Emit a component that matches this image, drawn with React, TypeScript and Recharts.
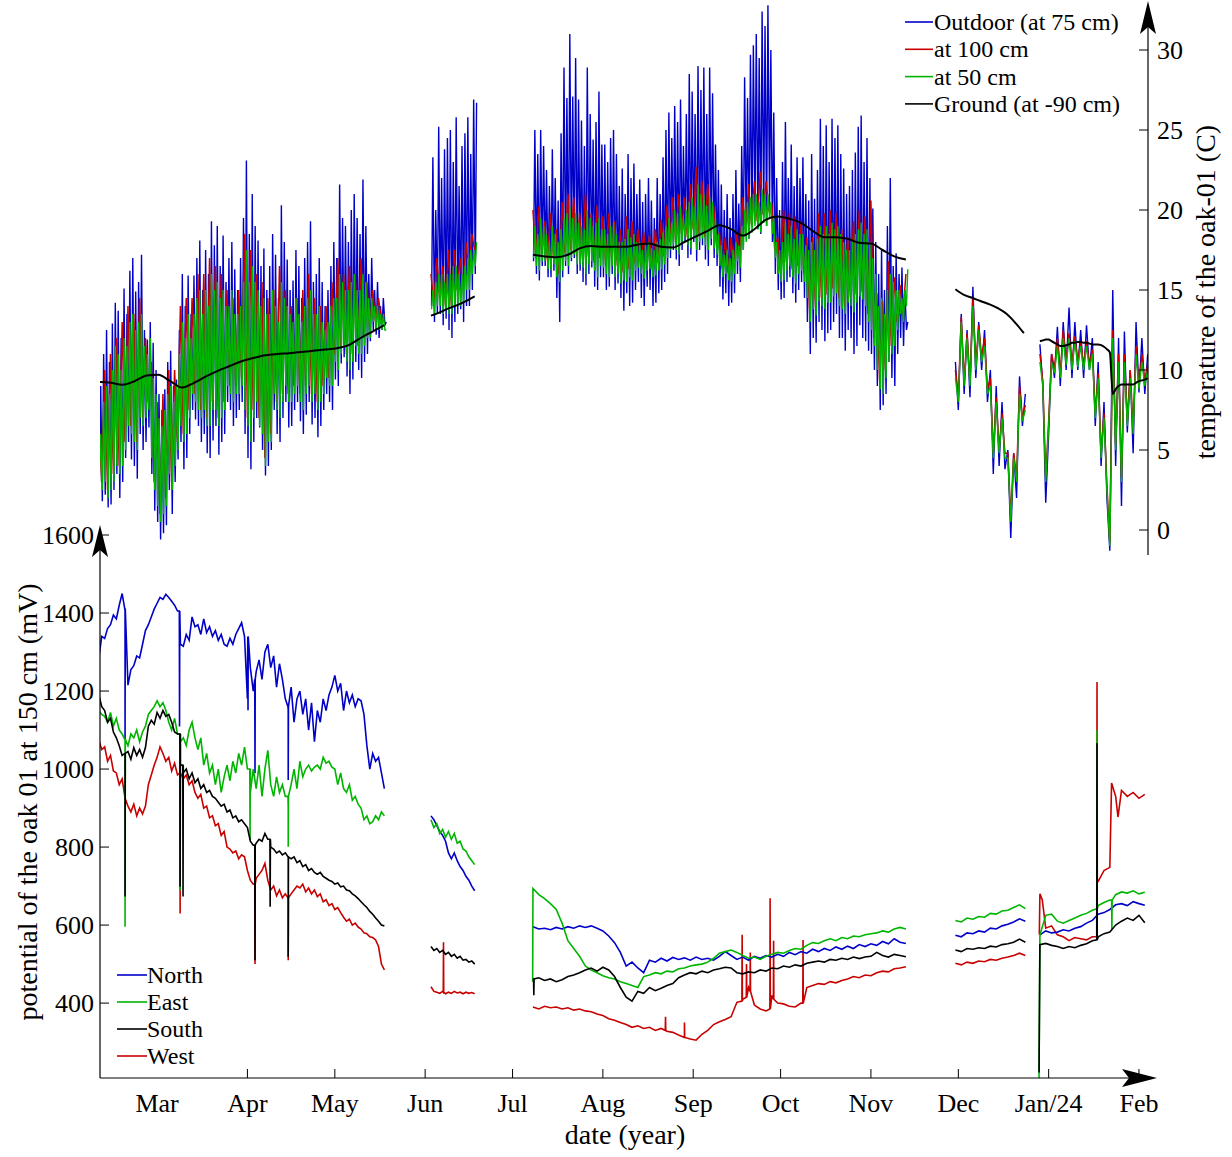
import React from "react";
import { LineChart, Line, XAxis, YAxis } from "recharts";

const FONT = '"Liberation Serif", "Times New Roman", Times, serif';
const W = 1232;
const H = 1157;
const PLOT_LEFT = 100;
const PLOT_RIGHT = 1148;
const TEMP_TOP = 5;
const TEMP_BOTTOM = 555;
const MV_TOP = 535;
const MV_BOTTOM = 1078;

const BLUE = "#0000c8";
const RED = "#c80000";
const GREEN = "#00b400";
const BLACK = "#000000";

// x = days since 1 Mar 2023
const dayDomain = [-19.6, 340.1];
const monthTicks = [0, 31, 61, 92, 122, 153, 184, 214, 245, 275, 306, 337];
const monthLabels = ["Mar", "Apr", "May", "Jun", "Jul", "Aug", "Sep", "Oct", "Nov", "Dec", "Jan/24", "Feb"];
const tempTicks = [0, 5, 10, 15, 20, 25, 30];
const tempDomain = [-1.5625, 32.8125];
const mvTicks = [400, 600, 800, 1000, 1200, 1400, 1600];
const mvDomain = [208, 1600];

// ---- temperature (C) ----
// daily highs / lows, one value per day
const outdoorHighA = [
  9, 11, 12.5, 10.5, 12.9, 14.2, 13.7, 12.0, 15.1, 13.5,
  16.2, 17.0, 14.9, 15.5, 17.2, 12.5, 11.9, 13.0, 11.7, 10.0,
  8.5, 7.5, 8.8, 10.5, 11.2, 9.0, 9.4, 12.5, 16.0, 14.0,
  15.9, 13.5, 15.9, 17.0, 18.1, 15.0, 17.5, 16.0, 19.3, 17.8,
  19.0, 16.5, 18.4, 15.5, 17.0, 18.0, 16.3, 15.0, 17.0, 19.5,
  23.1, 18.5, 21.0, 19.0, 18.1, 16.5, 17.6, 15.0, 16.5, 18.5,
  17.2, 14.5, 20.3, 18.0, 16.9, 15.0, 15.6, 17.5, 16.5, 14.5,
  17.0, 18.0, 19.3, 15.5, 16.0, 17.0, 15.5, 14.0, 15.0, 16.5,
  18.0, 17.0, 21.6, 19.5, 19.0, 18.0, 20.0, 21.0, 19.5, 18.5,
  21.9, 19.0, 16.0, 17.0, 15.0, 15.5, 14.0, 14.5, 13.0,
];
const outdoorLowA = [
  3.0, 1.8, 2.2, 1.4, 1.6, 2.5, 3.5, 2.0, 3.0, 4.5,
  5.5, 4.4, 4.0, 3.2, 6.0, 5.0, 5.5, 6.4, 3.5, 1.2,
  0.5, -0.6, -0.2, 0.3, 2.5, 1.0, 3.0, 4.4, 5.5, 3.8,
  4.5, 6.0, 7.5, 6.9, 6.5, 5.5, 6.0, 4.8, 4.5, 5.6,
  6.5, 4.7, 5.5, 6.0, 8.0, 7.5, 6.5, 7.0, 7.5, 8.0,
  6.0, 4.5, 3.8, 5.5, 7.0, 6.4, 5.0, 3.4, 4.0, 5.0,
  7.5, 6.0, 5.5, 7.0, 8.0, 6.4, 6.5, 7.5, 8.0, 6.8,
  6.0, 7.2, 8.0, 6.6, 7.0, 5.8, 6.5, 7.5, 8.5, 8.0,
  7.5, 9.4, 9.0, 10.4, 10.8, 9.6, 8.5, 9.4, 10.5, 10.0,
  9.5, 10.5, 11.0, 11.8, 12.5, 12.2, 12.0, 12.5, 12.8,
];
const at50HighA = [
  6, 8, 9, 8.5, 10, 11.5, 11, 10, 12, 11.5,
  13, 13.5, 12.5, 13, 13.5, 11.5, 11, 12, 9.5, 8.5,
  7, 6.5, 7.5, 8.5, 9, 8, 9, 11, 13, 12,
  13.5, 12, 13.5, 14.5, 15, 13.5, 15, 14, 16, 15,
  15.5, 14.5, 15, 14, 14, 15, 13.5, 13.5, 14, 15.5,
  17.5, 15.5, 16.5, 15.5, 15, 14, 14.5, 13.5, 13.5, 15,
  14, 13, 15.5, 14.5, 14, 13.5, 13, 14.5, 13.5, 13,
  14, 14.5, 15, 13.5, 13.5, 14, 13, 12.5, 13, 14,
  14.5, 14.5, 16, 15.5, 15, 15, 15.5, 16, 15, 15,
  16, 15.5, 14.5, 14.5, 14, 14, 13.5, 13.5, 12.5,
];
const at50LowA = [
  3.5, 2.5, 3.0, 2.0, 2.5, 3.0, 4.0, 3.5, 4.0, 5.0,
  6.5, 6.0, 5.5, 5.0, 7.0, 6.5, 7.0, 7.5, 4.5, 2.5,
  1.5, 0.5, 1.0, 1.5, 3.5, 2.5, 4.0, 5.0, 6.5, 5.5,
  6.0, 7.0, 8.5, 8.0, 7.5, 7.0, 7.5, 6.5, 6.5, 7.5,
  7.5, 6.5, 7.0, 7.5, 9.0, 8.5, 8.0, 8.5, 8.5, 9.0,
  7.5, 6.5, 5.5, 7.0, 8.0, 6.5, 6.0, 4.0, 5.5, 5.5,
  8.5, 7.5, 7.0, 8.0, 9.0, 8.0, 8.0, 8.5, 9.0, 8.0,
  7.5, 8.5, 9.0, 8.0, 8.5, 7.5, 8.0, 8.5, 9.5, 9.0,
  9.0, 10.5, 10.0, 11.0, 11.5, 10.5, 10.0, 10.5, 11.5, 11.0,
  11.0, 11.5, 12.0, 12.0, 13.0, 12.5, 12.5, 12.5, 12.5,
];
const outdoorHighB = [23.3, 20.0, 25.2, 22.0, 23.8, 24.5, 25.0, 23.0, 25.8, 21.5, 24.0, 24.8, 25.8, 23.5, 26.9, 26.7];
const outdoorLowB = [14.0, 13.0, 13.5, 13.5, 12.8, 13.2, 12.5, 12.0, 13.0, 13.5, 13.8, 13.0, 14.0, 14.0, 15.0, 16.0];
const at50HighB = [15, 15.5, 16, 16, 15.5, 16, 16, 16.5, 16.5, 16, 16, 16.5, 17, 17.5, 17.5, 18];
const at50LowB = [13.8, 13.5, 14, 14, 13.5, 13.8, 13.5, 13.5, 14, 14, 14, 14.2, 15, 15, 16, 16.5];
const outdoorHighC = [
  25.0, 23.5, 25.0, 24.0, 22.5, 21.5, 23.8, 22.0, 20.6, 24.8, 28.9, 27.0, 31.0, 27.1, 29.5, 26.9,
  25.6, 24.0, 28.9, 26.0, 24.4, 25.5, 27.4, 24.1, 24.1, 23.0, 24.5, 25.0, 23.5, 21.5, 22.6, 21.0,
  23.5, 22.0, 22.9, 21.0, 21.9, 20.5, 21.0, 22.0, 20.6, 19.5, 22.0, 21.0, 23.3, 25.0, 26.1, 24.5,
  26.5, 25.5, 26.9, 24.0, 26.0, 28.5, 27.4, 26.0, 29.0, 27.5, 28.9, 26.0, 28.9, 27.3, 24.1, 22.5,
  21.6, 20.0, 21.0, 19.5, 21.0, 22.5, 20.4, 24.0, 28.3, 27.0, 29.7, 30.3, 31.0, 29.5, 32.4, 31.5,
  32.8, 30.0, 26.1, 22.0, 20.0, 23.0, 25.5, 22.0, 24.1, 21.5, 23.3, 22.0, 23.3, 21.0, 20.6, 23.5,
  20.7, 22.5, 25.7, 24.0, 25.3, 23.0, 25.7, 24.5, 25.3, 23.5, 22.6, 21.0, 21.5, 22.5, 23.6, 25.2,
  25.9, 23.0, 24.5, 22.0, 20.1, 18.0, 16.0, 17.5, 15.0, 19.0, 22.0, 16.5, 17.3, 16.0, 16.4, 15.0, 13.0,
];
const outdoorLowC = [
  16.8, 16.0, 15.6, 16.5, 16.5, 15.8, 15.8, 16.2, 14.5, 13.0, 15.8, 16.5, 16.0, 16.8, 17.0, 16.0,
  16.2, 15.5, 15.3, 16.0, 16.4, 15.2, 15.0, 15.8, 15.8, 15.0, 15.2, 16.0, 15.0, 15.4, 14.5, 13.7,
  14.8, 14.0, 14.2, 15.0, 15.5, 14.5, 14.0, 15.2, 15.0, 14.0, 14.2, 14.8, 15.0, 15.5, 16.0, 17.0,
  17.5, 16.9, 16.5, 17.5, 18.0, 17.0, 17.2, 18.0, 16.8, 17.5, 17.8, 16.9, 16.5, 17.8, 17.0, 16.5,
  15.2, 14.4, 14.8, 14.0, 14.2, 14.8, 16.0, 15.5, 17.5, 18.5, 18.2, 19.0, 19.5, 18.8, 18.5, 19.5,
  19.0, 20.2, 18.0, 16.0, 15.0, 14.4, 14.5, 15.5, 15.8, 14.8, 14.2, 15.0, 15.5, 14.5, 13.0, 11.0,
  12.0, 11.7, 13.0, 12.5, 11.8, 12.3, 12.5, 13.0, 13.5, 12.0, 12.0, 11.2, 12.5, 12.0, 11.0, 11.5,
  12.8, 12.0, 11.8, 11.2, 11.0, 10.0, 9.0, 7.5, 7.8, 8.5, 10.5, 9.5, 9.0, 11.0, 12.0, 11.5, 12.5,
];
const at50HighC = [
  19.0, 18.5, 19.5, 19.0, 18.5, 18.0, 19.0, 18.5, 18.0, 18.8, 19.5, 19.8, 20.2, 19.5, 19.8, 19.2,
  19.0, 18.8, 20.0, 19.5, 19.0, 19.2, 19.5, 18.8, 18.8, 18.5, 19.0, 19.2, 18.5, 18.0, 18.0, 18.2,
  18.8, 18.3, 18.5, 18.0, 18.0, 17.5, 17.8, 18.0, 17.6, 17.5, 18.0, 18.2, 18.6, 19.0, 19.5, 19.2,
  20.0, 19.8, 20.2, 19.5, 20.0, 20.5, 20.8, 20.2, 21.6, 21.0, 21.0, 20.3, 20.8, 20.5, 19.5, 18.5,
  17.8, 17.2, 17.5, 17.0, 17.5, 18.0, 17.8, 19.0, 20.0, 20.5, 20.8, 21.0, 21.0, 20.5, 21.3, 21.0,
  21.0, 20.5, 19.5, 18.0, 17.5, 18.0, 19.2, 18.5, 19.0, 18.2, 18.8, 18.5, 18.5, 17.8, 17.5, 18.0,
  17.5, 18.2, 19.0, 18.5, 19.0, 18.5, 19.2, 18.8, 19.0, 18.5, 18.0, 17.5, 17.5, 18.0, 18.5, 18.8,
  19.2, 18.5, 18.8, 18.0, 17.0, 16.0, 14.0, 14.5, 13.5, 15.0, 16.0, 15.5, 15.0, 15.0, 14.5, 15.0, 16.3,
];
const at50LowC = [
  17.0, 16.5, 16.2, 16.8, 16.8, 16.3, 16.2, 16.6, 15.8, 15.5, 16.2, 16.8, 16.5, 17.0, 17.2, 16.6,
  16.6, 16.4, 16.0, 16.6, 16.8, 16.2, 15.8, 16.5, 16.4, 16.0, 15.8, 16.5, 15.8, 16.0, 15.4, 15.6,
  15.5, 15.8, 15.6, 16.2, 16.4, 16.0, 15.7, 16.2, 16.3, 15.8, 15.9, 16.2, 16.3, 16.6, 17.0, 17.5,
  17.8, 17.5, 17.2, 18.0, 18.3, 17.8, 17.6, 18.3, 17.5, 18.0, 18.2, 17.8, 17.5, 18.2, 17.6, 17.2,
  16.5, 15.8, 16.0, 15.6, 15.5, 16.0, 16.8, 16.4, 17.5, 18.0, 18.2, 18.6, 19.0, 18.8, 18.6, 19.2,
  19.0, 19.5, 18.5, 17.0, 16.0, 15.5, 15.6, 16.2, 16.5, 15.8, 15.4, 16.0, 16.2, 15.5, 14.5, 13.0,
  13.8, 13.4, 14.3, 14.0, 13.8, 14.2, 14.2, 14.6, 14.8, 14.0, 13.8, 13.5, 14.2, 14.0, 13.6, 14.2,
  14.6, 14.4, 14.0, 13.0, 12.5, 11.5, 10.0, 8.8, 8.5, 9.5, 10.5, 11.0, 11.5, 12.5, 13.5, 13.0, 14.0,
];
// alternating high/low readings, one per day
const at100A = [
  7, 3, 10, 2.5, 11, 3.5, 12, 4, 13, 5.5, 14, 6.5, 13.5, 5.5, 14.5, 7, 12, 8, 10.5, 3,
  8, 1, 8.5, 2, 10, 3, 10, 5.5, 14, 6, 14.5, 7.5, 14.5, 8.5, 16, 7.5, 16, 7, 17, 8,
  16.5, 7, 16, 8, 15, 9, 14.5, 9, 15, 9.5, 18.5, 7, 17.5, 7.5, 16, 7, 15.5, 4.5, 14.5, 6,
  15, 8, 16.5, 8.5, 15, 8.5, 14, 9, 14.5, 8.5, 15, 9, 16, 8.5, 14.5, 8, 14, 9, 14, 9.5,
  15.5, 11, 17, 11.5, 16, 11, 16.5, 11, 16, 11.5, 17, 12, 15.5, 12.5, 15, 13, 14.5, 13, 13.5,
];
const at100B = [16, 14, 17, 14.5, 16.5, 14, 17.5, 14, 17.5, 15, 17, 15, 18, 16, 18.5, 17.5];
const at100C = [
  20.0, 17.0, 20.2, 17.3, 19.3, 16.8, 19.8, 17.1, 18.8, 16.0, 20.5, 17.3, 21.0, 17.5, 20.8, 17.1,
  19.8, 16.9, 21.0, 17.1, 19.8, 16.7, 20.3, 17.0, 19.6, 16.5, 19.8, 17.0, 19.3, 16.5, 18.8, 16.1,
  19.6, 16.3, 19.3, 16.7, 18.8, 16.5, 18.6, 16.7, 18.4, 16.3, 18.8, 16.7, 19.4, 17.1, 20.3, 18.0,
  20.8, 18.0, 21.0, 18.5, 20.8, 18.3, 21.6, 18.8, 22.7, 18.5, 21.8, 18.3, 21.6, 18.7, 20.3, 17.7,
  18.6, 16.3, 18.3, 16.1, 18.3, 16.5, 18.6, 16.9, 20.8, 18.5, 21.6, 19.1, 21.8, 19.3, 22.4, 19.7,
  21.8, 20.0, 20.3, 17.5, 18.3, 16.0, 20.0, 16.7, 19.8, 16.3, 19.6, 16.5, 19.3, 16.0, 18.3, 13.5,
  18.3, 13.9, 19.8, 14.5, 19.8, 14.7, 20.0, 15.1, 19.8, 14.5, 18.8, 14.0, 18.3, 14.5, 19.3, 14.7,
  20.0, 14.9, 19.6, 13.5, 20.6, 12.0, 14.8, 9.3, 14.3, 10.0, 16.8, 11.5, 15.8, 13.0, 15.3, 13.5, 16.0,
];
const outdoorD = [10.5, 7.5, 13.5, 8.5, 12.5, 8.3, 15.2, 9.5, 13.0, 10.0, 12.5, 8.0, 10.0, 3.5, 9.0, 4.0, 8.0, 3.8, 5.0, -0.5, 4.8, 2.0, 9.6, 6.5, 8.5];
const at50D = [9.5, 8.0, 13.0, 9.0, 12.0, 9.0, 14.0, 10.0, 12.5, 10.5, 11.5, 8.5, 9.0, 4.5, 8.0, 4.8, 7.0, 4.5, 4.5, 0.5, 4.5, 3.0, 8.5, 6.8, 7.5];
const at100D = [10.0, 8.3, 13.3, 9.3, 12.3, 9.3, 14.5, 10.3, 12.8, 10.8, 12.0, 8.8, 9.5, 4.8, 8.3, 5.0, 7.3, 4.8, 4.8, 0.8, 4.8, 3.3, 9.0, 7.0, 7.8];
const outdoorE = [
  11.6, 9.0, 1.7, 6.0, 11.0, 9.5, 12.7, 9.0, 13.0, 10.0, 13.9, 9.5, 13.0, 10.0, 12.5, 9.5, 12.8, 10.0, 12.0,
  6.5, 10.5, 4.0, 8.0, 2.0, -1.3, 15.0, 4.0, 12.0, 1.5, 12.4, 6.1, 10.0, 4.8, 13.0, 8.6, 12.0, 8.5, 11.0,
];
const at50E = [
  10.5, 9.0, 3.0, 6.5, 10.5, 9.8, 11.5, 9.5, 12.0, 10.3, 12.0, 10.0, 11.8, 10.2, 11.5, 10.0, 11.5, 10.0, 11.0,
  7.0, 9.5, 4.5, 7.0, 2.5, -1.0, 12.0, 5.0, 10.5, 3.0, 10.5, 6.5, 9.5, 6.0, 11.0, 8.8, 10.5, 9.0, 10.0,
];
const at100E = [
  11.0, 9.3, 3.3, 6.8, 11.0, 10.1, 12.0, 9.8, 12.5, 10.6, 12.3, 10.3, 12.1, 10.5, 11.8, 10.3, 11.8, 10.3, 11.3,
  7.3, 9.8, 4.8, 7.3, 2.8, -0.8, 12.5, 5.3, 11.0, 3.3, 11.0, 6.8, 10.0, 6.3, 11.5, 9.0, 11.0, 9.3, 10.3,
];
const groundA = [9.25, 9.2, 9.08, 9.3, 9.65, 9.7, 9.3, 8.9, 9.2, 9.6, 9.95, 10.25, 10.55, 10.75, 10.92, 11.0, 11.05, 11.12, 11.2, 11.28, 11.36, 11.55, 12.0, 12.4, 12.8];
const groundB = [13.4, 13.6, 13.85, 14.05, 14.3, 14.6];
const groundC = [
  17.2, 17.1, 17.05, 17.2, 17.6, 17.75, 17.7, 17.7, 17.7, 17.85, 17.9, 17.7, 17.65, 18.0, 18.35, 18.7, 19.05,
  18.8, 18.4, 18.8, 19.4, 19.6, 19.45, 19.2, 18.7, 18.3, 18.3, 18.2, 17.95, 17.9, 17.5, 17.1, 16.9,
];
const groundD = [15.05, 14.7, 14.5, 14.3, 14.1, 13.85, 13.5, 12.95, 12.3];
const groundE = [
  11.8, 11.85, 11.9, 11.9, 11.8, 11.7, 11.6, 11.5, 11.5, 11.55, 11.6, 11.7, 11.7, 11.75, 11.75, 11.7, 11.7, 11.65, 11.6,
  11.6, 11.6, 11.55, 11.45, 11.3, 11.1, 8.5, 8.8, 9.0, 9.1, 9.1, 9.1, 9.1, 9.1, 9.2, 9.3, 9.35, 9.4, 9.5,
];

// ---- potential (mV) ----
const northA = [
  1285, 1340, 1335, 1360, 1370, 1395, 1385, 1420, 1450, 1410, 1215, 1255, 1265, 1290, 1285, 1320, 1355, 1370, 1390, 1410,
  1425, 1440, 1435, 1448, 1440, 1430, 1420, 1405, 1320, 1315, 1345, 1330, 1390, 1365, 1370, 1345, 1385, 1350, 1365, 1340,
  1355, 1330, 1345, 1320, 1315, 1335, 1320, 1345, 1360, 1375, 1340, 1180, 1260, 1200, 1250, 1280, 1230, 1300, 1320, 1260,
  1290, 1210, 1270, 1230, 1180, 1150, 1210, 1120, 1180, 1200, 1140, 1180, 1100, 1170, 1070, 1150, 1120, 1180, 1150, 1190,
  1210, 1240, 1200, 1220, 1150, 1200, 1170, 1190, 1160, 1180, 1175, 1140, 1060, 1000, 1040, 1020, 1030, 990, 950,
];
const eastA = [
  1150, 1140, 1135, 1120, 1145, 1110, 1130, 1100, 1090, 1076, 1060, 1090, 1080, 1100, 1070, 1095, 1110, 1140, 1150, 1160,
  1175, 1160, 1170, 1150, 1120, 1100, 1130, 1090, 1070, 1080, 1060, 1100, 1120, 1080, 1050, 1080, 1010, 1040, 990, 1010,
  960, 1000, 940, 980, 1010, 970, 1020, 990, 1040, 1010, 1056, 1000, 940, 1000, 950, 1010, 930, 1000, 1048, 960,
  930, 980, 940, 960, 930, 900, 960, 1000, 950, 1020, 980, 1000, 1010, 995, 1005, 1010, 1000, 1030, 1015, 1020,
  1005, 1000, 960, 990, 950, 940, 960, 920, 930, 910, 900, 870, 880, 860, 865, 880, 870, 890, 880,
];
const southA = [
  1190, 1160, 1150, 1120, 1130, 1095, 1080, 1060, 1035, 1040, 1045, 1025, 1055, 1035, 1050, 1030, 1055, 1110, 1125, 1115,
  1145, 1130, 1150, 1135, 1140, 1120, 1095, 1090, 1010, 990, 1000, 975, 990, 965, 975, 950, 960, 940, 945, 930,
  925, 915, 905, 910, 890, 895, 875, 880, 865, 870, 860, 850, 815, 805, 810, 820, 815, 835, 820, 800,
  795, 785, 790, 780, 785, 775, 770, 775, 760, 765, 750, 755, 740, 745, 735, 730, 735, 725, 720, 715,
  712, 705, 708, 698, 700, 690, 688, 680, 675, 668, 660, 652, 645, 635, 628, 618, 610, 600, 598,
];
const westA = [
  1074, 1050, 1057, 1020, 1035, 995, 990, 960, 975, 925, 905, 890, 910, 880, 900, 885, 905, 960, 985, 1010,
  1030, 1057, 1040, 1020, 1030, 995, 1015, 985, 990, 975, 985, 960, 970, 940, 925, 935, 900, 905, 875, 880,
  855, 860, 830, 840, 800, 795, 785, 790, 770, 780, 775, 740, 715, 705, 720, 730, 740, 758, 715, 690,
  700, 675, 690, 670, 680, 668, 680, 690, 700, 695, 705, 685, 695, 680, 690, 673, 680, 660, 665, 650,
  655, 640, 645, 632, 620, 610, 615, 600, 605, 595, 590, 580, 578, 570, 568, 562, 545, 500, 485,
];
const northB = [880, 870, 855, 840, 830, 815, 785, 770, 785, 765, 750, 740, 725, 715, 700, 688];
const eastB = [870, 850, 860, 835, 845, 825, 840, 820, 835, 810, 815, 795, 790, 775, 765, 755];
const southB = [545, 535, 540, 530, 535, 525, 530, 520, 525, 515, 520, 510, 512, 505, 508, 500];
const westB = [442, 430, 428, 425, 430, 424, 428, 425, 430, 426, 428, 424, 428, 425, 427, 424];
const northC = [
  596, 590, 592, 588, 594, 590, 596, 592, 598, 594, 598, 592, 585, 572, 555, 530,
  495, 505, 490, 478, 510, 505, 515, 508, 517, 512, 516, 510, 518, 512, 515, 510,
  520, 532, 522, 512, 518, 510, 520, 515, 522, 518, 525, 520, 530, 524, 532, 528,
  538, 532, 540, 535, 544, 538, 546, 540, 550, 545, 552, 548, 558, 552, 565, 556, 553,
];
const eastC = [
  694, 678, 668, 655, 640, 605, 560, 540, 520, 495, 485, 478, 470, 465, 462, 455,
  450, 445, 440, 468, 472, 478, 475, 482, 480, 488, 490, 495, 498, 500, 505, 515,
  528, 532, 536, 530, 522, 515, 518, 512, 520, 525, 530, 528, 535, 540, 538, 548,
  555, 553, 560, 565, 560, 568, 565, 572, 570, 575, 578, 580, 585, 582, 590, 594, 590,
];
const southC = [
  462, 465, 458, 462, 455, 460, 468, 472, 478, 485, 490, 482, 492, 485, 468, 440,
  415, 405, 430, 425, 440, 432, 438, 445, 450, 465, 472, 478, 475, 482, 478, 485,
  488, 492, 490, 478, 475, 480, 478, 485, 482, 490, 488, 495, 492, 498, 495, 502,
  505, 508, 505, 512, 510, 515, 512, 518, 514, 518, 520, 530, 522, 518, 525, 522, 519,
];
const westC = [
  390, 385, 392, 388, 390, 385, 388, 382, 385, 380, 378, 372, 368, 360, 356, 350,
  345, 338, 342, 335, 338, 330, 335, 328, 325, 318, 312, 308, 305, 320, 330, 345,
  352, 358, 365, 402, 410, 440, 395, 385, 380, 420, 400, 398, 392, 390, 400, 440,
  445, 450, 448, 455, 452, 458, 462, 468, 465, 472, 470, 478, 482, 480, 488, 490, 493,
];
const northD = [574, 570, 580, 578, 585, 582, 592, 590, 598, 602, 608, 616, 610];
const eastD = [612, 608, 618, 615, 622, 620, 630, 628, 636, 638, 645, 652, 642];
const southD = [536, 532, 540, 538, 542, 540, 546, 544, 550, 552, 556, 564, 556];
const westD = [502, 498, 505, 502, 508, 506, 512, 510, 515, 518, 522, 528, 522];
const northE = [575, 585, 580, 582, 588, 585, 592, 596, 605, 612, 628, 632, 640, 652, 655, 650, 660, 655, 651];
const eastE = [575, 625, 628, 610, 605, 612, 618, 625, 630, 638, 650, 658, 664, 678, 685, 682, 688, 680, 684];
const southE = [550, 553, 548, 545, 540, 545, 542, 548, 552, 560, 570, 578, 582, 600, 610, 618, 612, 625, 606];
const westE = [680, 592, 598, 575, 570, 560, 568, 565, 562, 570, 712, 740, 748, 930, 945, 930, 940, 925, 935];

// sharp excursions: [day, level, tip]
const northSpikes = [[-11, 1410, 1074], [7.7, 1405, 1109], [31.2, 1340, 1151], [33.6, 1230, 989], [45, 1160, 972]];
const eastSpikes = [[-11, 1076, 596], [7.9, 1090, 690], [31.9, 1000, 818], [45, 930, 801]];
const southSpikes = [[-11, 1040, 673], [7.9, 1090, 698], [8.9, 1010, 673], [33.6, 805, 510], [38.8, 820, 647], [45, 775, 519]];
const westSpikes = [[7.9, 990, 630], [33.6, 705, 500], [45, 670, 510]];
const westSpikesB = [[98.3, 428, 556]];
const southSpikesC = [[129.3, 462, 420]];
const westSpikesC = [[174.5, 330, 365], [181, 312, 350], [200.8, 405, 575], [202.3, 415, 500], [203.6, 430, 530], [210.4, 385, 669], [211.6, 410, 560], [221.7, 400, 562]];
const eastLeadC = [[128.9, 455]];
const eastLeadE = [[302.7, 208]];
const southLeadE = [[302.7, 222]];
const westStepsE = [[302.8, 575], [303.8, 665], [322.5, 570], [322.6, 1223], [322.7, 712], [327.6, 964], [329.8, 877]];
const eastSpikesE = [[322.6, 642, 1100], [327.7, 664, 590]];
const southSpikesE = [[322.6, 562, 1066]];

type Pt = { x: number; y: number | null };

const span = (start: number, end: number, values: number[]): Pt[] =>
  values.map((v, i) => ({ x: start + ((end - start) * i) / (values.length - 1), y: v }));
// morning low then afternoon high for each day
const daily = (start: number, highs: number[], lows: number[]): Pt[] =>
  highs.flatMap((h, i) => [
    { x: start + i + 0.2, y: lows[i] },
    { x: start + i + 0.65, y: h },
  ]);
const spikes = (list: number[][]): Pt[] =>
  list.flatMap(([d, level, tip]) => [
    { x: d - 0.08, y: level },
    { x: d, y: tip },
    { x: d + 0.08, y: level },
  ]);
const pts = (list: number[][]): Pt[] => list.map(([d, v]) => ({ x: d, y: v }));

// sort each record and put a null between records so the line breaks
function segments(...segs: Pt[][]): Pt[] {
  const out: Pt[] = [];
  segs.forEach((seg) => {
    const s = [...seg].sort((a, b) => a.x - b.x);
    if (out.length) out.push({ x: (out[out.length - 1].x + s[0].x) / 2, y: null });
    out.push(...s);
  });
  return out;
}

const tempSeries = [
  {
    name: "Outdoor (at 75 cm)",
    color: BLUE,
    width: 1.4,
    data: segments(
      daily(-20, outdoorHighA, outdoorLowA),
      daily(94, outdoorHighB, outdoorLowB),
      daily(129, outdoorHighC, outdoorLowC),
      span(274, 298, outdoorD),
      span(303, 340, outdoorE)
    ),
  },
  {
    name: "at 100 cm",
    color: RED,
    width: 1.5,
    data: segments(span(-20, 78, at100A), span(94, 109, at100B), span(129, 257, at100C), span(274, 298, at100D), span(303, 340, at100E)),
  },
  {
    name: "at 50 cm",
    color: GREEN,
    width: 1.4,
    data: segments(
      daily(-20, at50HighA, at50LowA),
      daily(94, at50HighB, at50LowB),
      daily(129, at50HighC, at50LowC),
      span(274, 298, at50D),
      span(303, 340, at50E)
    ),
  },
  {
    name: "Ground (at -90 cm)",
    color: BLACK,
    width: 2,
    data: segments(span(-20, 78, groundA), span(94, 109, groundB), span(129, 257, groundC), span(274, 297.5, groundD), span(303, 340, groundE)),
  },
];

const north = {
  name: "North",
  color: BLUE,
  data: segments(
    [...span(-20, 78, northA), ...spikes(northSpikes)],
    span(94, 109, northB),
    span(129, 257, northC),
    span(274, 298, northD),
    span(303, 339, northE)
  ),
};
const east = {
  name: "East",
  color: GREEN,
  data: segments(
    [...span(-20, 78, eastA), ...spikes(eastSpikes)],
    span(94, 109, eastB),
    [...span(129, 257, eastC), ...pts(eastLeadC)],
    span(274, 298, eastD),
    [...span(303, 339, eastE), ...pts(eastLeadE), ...spikes(eastSpikesE)]
  ),
};
const south = {
  name: "South",
  color: BLACK,
  data: segments(
    [...span(-20, 78, southA), ...spikes(southSpikes)],
    span(94, 109, southB),
    [...span(129, 257, southC), ...spikes(southSpikesC)],
    span(274, 298, southD),
    [...span(303, 339, southE), ...pts(southLeadE), ...spikes(southSpikesE)]
  ),
};
const west = {
  name: "West",
  color: RED,
  data: segments(
    [...span(-20, 78, westA), ...spikes(westSpikes)],
    [...span(94, 109, westB), ...spikes(westSpikesB)],
    [...span(129, 257, westC), ...spikes(westSpikesC)],
    span(274, 298, westD),
    [...span(303, 339, westE), ...pts(westStepsE)]
  ),
};
// drawing order (bottom to top); legend keeps its own order
const mvDrawOrder = [west, north, east, south];
const mvLegend = [north, east, south, west];

function MonthTick({ x, y, payload }: any) {
  const i = monthTicks.indexOf(payload.value);
  return (
    <g>
      {i > 0 && <line x1={x} y1={y} x2={x} y2={y - 9} stroke="#000" strokeWidth={1} />}
      <text x={x} y={y + 34} textAnchor="middle" fontFamily={FONT} fontSize={26} fill="#000">
        {monthLabels[i]}
      </text>
    </g>
  );
}

function MvTick({ x, y, payload }: any) {
  return (
    <g>
      <line x1={x} y1={y} x2={x + 9} y2={y} stroke="#000" strokeWidth={1} />
      <text x={x - 6} y={y + 9} textAnchor="end" fontFamily={FONT} fontSize={26} fill="#000">
        {payload.value}
      </text>
    </g>
  );
}

function TempTick({ x, y, payload }: any) {
  return (
    <g>
      <line x1={x} y1={y} x2={x - 9} y2={y} stroke="#000" strokeWidth={1} />
      <text x={x + 9} y={y + 9} textAnchor="start" fontFamily={FONT} fontSize={26} fill="#000">
        {payload.value}
      </text>
    </g>
  );
}

function Overlay() {
  return (
    <svg width={W} height={H} style={{ position: "absolute", left: 0, top: 0, pointerEvents: "none" }}>
      {/* axis arrows */}
      <polygon points={`${PLOT_RIGHT},1 ${PLOT_RIGHT + 8},34 ${PLOT_RIGHT},27 ${PLOT_RIGHT - 8},34`} fill="#000" />
      <polygon points={`${PLOT_LEFT},525 ${PLOT_LEFT + 8},557 ${PLOT_LEFT},550 ${PLOT_LEFT - 8},557`} fill="#000" />
      <polygon points={`1157,${MV_BOTTOM} 1122,${MV_BOTTOM + 9} 1129,${MV_BOTTOM} 1122,${MV_BOTTOM - 9}`} fill="#000" />

      {/* axis titles */}
      <text transform="translate(37,802) rotate(-90)" textAnchor="middle" fontFamily={FONT} fontSize={28} fill="#000">
        potential of the oak 01 at 150 cm (mV)
      </text>
      <text transform="translate(1215,292) rotate(-90)" textAnchor="middle" fontFamily={FONT} fontSize={28} fill="#000">
        temperature of the oak-01 (C)
      </text>
      <text x={625} y={1144} textAnchor="middle" fontFamily={FONT} fontSize={28} fill="#000">
        date (year)
      </text>

      {/* temperature legend */}
      {tempSeries.map((s, i) => (
        <g key={s.name}>
          <line x1={905} x2={933} y1={22 + i * 27.3} y2={22 + i * 27.3} stroke={s.color} strokeWidth={1.6} />
          <text x={934} y={30 + i * 27.3} fontFamily={FONT} fontSize={24} fill="#000">
            {s.name}
          </text>
        </g>
      ))}

      {/* potential legend */}
      {mvLegend.map((s, i) => (
        <g key={s.name}>
          <line x1={117} x2={147} y1={975 + i * 27} y2={975 + i * 27} stroke={s.color} strokeWidth={1.6} />
          <text x={147} y={983 + i * 27} fontFamily={FONT} fontSize={24} fill="#000">
            {s.name}
          </text>
        </g>
      ))}
    </svg>
  );
}

export default function App() {
  return (
    <div style={{ position: "absolute", left: 0, top: 0, width: W, height: H, background: "#fff", overflow: "hidden" }}>
      <div style={{ position: "absolute", left: 0, top: 0 }}>
        <LineChart width={W} height={H} margin={{ top: MV_TOP, right: W - PLOT_RIGHT, bottom: 0, left: 0 }}>
          <XAxis
            dataKey="x"
            type="number"
            domain={dayDomain}
            allowDataOverflow
            ticks={monthTicks}
            interval={0}
            height={H - MV_BOTTOM}
            tickSize={0}
            tickMargin={0}
            tickLine={false}
            tick={<MonthTick />}
            axisLine={{ stroke: "#000", strokeWidth: 1.2 }}
          />
          <YAxis
            dataKey="y"
            type="number"
            domain={mvDomain}
            allowDataOverflow
            ticks={mvTicks}
            interval={0}
            width={PLOT_LEFT}
            tickSize={0}
            tickMargin={0}
            tickLine={false}
            tick={<MvTick />}
            axisLine={{ stroke: "#000", strokeWidth: 1.2 }}
          />
          {mvDrawOrder.map((s) => (
            <Line
              key={s.name}
              data={s.data}
              dataKey="y"
              name={s.name}
              type="linear"
              stroke={s.color}
              strokeWidth={1.6}
              dot={false}
              activeDot={false}
              isAnimationActive={false}
            />
          ))}
        </LineChart>
      </div>

      <div style={{ position: "absolute", left: 0, top: 0 }}>
        <LineChart width={W} height={TEMP_BOTTOM + 5} margin={{ top: TEMP_TOP, right: 0, bottom: 5, left: PLOT_LEFT }}>
          <XAxis dataKey="x" type="number" domain={dayDomain} allowDataOverflow hide />
          <YAxis
            dataKey="y"
            type="number"
            orientation="right"
            domain={tempDomain}
            allowDataOverflow
            ticks={tempTicks}
            interval={0}
            width={W - PLOT_RIGHT}
            tickSize={0}
            tickMargin={0}
            tickLine={false}
            tick={<TempTick />}
            axisLine={{ stroke: "#000", strokeWidth: 1.2 }}
          />
          {tempSeries.map((s) => (
            <Line
              key={s.name}
              data={s.data}
              dataKey="y"
              name={s.name}
              type={s.color === BLACK ? "monotone" : "linear"}
              stroke={s.color}
              strokeWidth={s.width}
              dot={false}
              activeDot={false}
              isAnimationActive={false}
            />
          ))}
        </LineChart>
      </div>

      <Overlay />
    </div>
  );
}
